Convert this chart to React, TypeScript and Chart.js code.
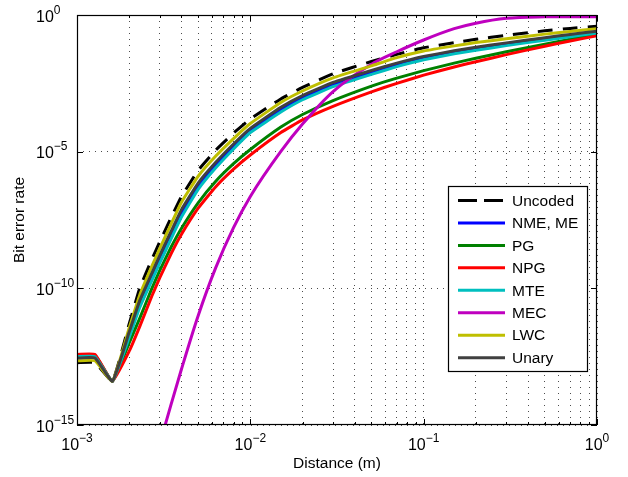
import React, { useEffect, useRef } from 'react';
import { Chart, registerables } from 'chart.js';

Chart.register(...registerables);

const FONT = '"Liberation Sans", Arial, Helvetica, sans-serif';

// Distance (m)
const distances = [1e-3, 1.27e-3, 1.6e-3, 2e-3, 2.3e-3, 2.7e-3, 3e-3, 3.5e-3, 4e-3, 5e-3, 6.3e-3, 8e-3, 1e-2, 1.5e-2, 2e-2, 3e-2, 5e-2, 7e-2, 0.1, 0.15, 0.2, 0.3, 0.5, 0.7, 1];

// log10(bit error rate)
const uncodedExp = [-12.72, -12.72, -13.4, -11.3, -10.0, -8.95, -8.3, -7.4, -6.65, -5.68, -4.95, -4.32, -3.8, -3.07, -2.65, -2.15, -1.7, -1.44, -1.2, -1.01, -0.89, -0.74, -0.58, -0.49, -0.41];
const nmeExp = [-12.5, -12.5, -13.4, -11.7, -10.58, -9.58, -8.94, -8.03, -7.26, -6.26, -5.5, -4.81, -4.22, -3.46, -3.02, -2.54, -2.1, -1.82, -1.58, -1.36, -1.23, -1.07, -0.87, -0.75, -0.62];
const pgExp = [-12.45, -12.45, -13.4, -12.0, -11.1, -10.01, -9.35, -8.48, -7.81, -6.87, -6.09, -5.44, -4.92, -4.1, -3.64, -3.13, -2.6, -2.31, -2.035, -1.76, -1.58, -1.345, -1.065, -0.885, -0.7];
const npgExp = [-12.42, -12.42, -13.4, -12.3, -11.4, -10.29, -9.62, -8.72, -8.03, -7.07, -6.29, -5.64, -5.12, -4.3, -3.84, -3.34, -2.81, -2.5, -2.2, -1.9, -1.71, -1.45, -1.14, -0.95, -0.76];
const mteExp = [-12.5, -12.5, -13.4, -11.8, -10.7, -9.72, -9.08, -8.17, -7.4, -6.38, -5.6, -4.9, -4.3, -3.55, -3.1, -2.62, -2.17, -1.89, -1.64, -1.42, -1.29, -1.12, -0.92, -0.795, -0.66];
const mecExp = [null, null, null, null, null, null, -15.7, -14.22, -12.97, -11.0, -9.26, -7.78, -6.64, -4.99, -3.99, -2.8, -1.8, -1.345, -0.915, -0.5, -0.3, -0.12, -0.066, -0.06, -0.06];
const lwcExp = [-12.65, -12.65, -13.4, -11.45, -10.25, -9.2, -8.55, -7.63, -6.86, -5.9, -5.17, -4.52, -3.97, -3.2, -2.78, -2.3, -1.86, -1.56, -1.32, -1.13, -1.01, -0.87, -0.7, -0.6, -0.5];
const unaryExp = [-12.55, -12.55, -13.4, -11.6, -10.45, -9.45, -8.8, -7.9, -7.13, -6.15, -5.4, -4.72, -4.15, -3.38, -2.95, -2.47, -2.03, -1.76, -1.52, -1.31, -1.18, -1.02, -0.83, -0.71, -0.59];

const seriesLabels = ['Uncoded', 'NME, ME', 'PG', 'NPG', 'MTE', 'MEC', 'LWC', 'Unary'];
const seriesExps = [uncodedExp, nmeExp, pgExp, npgExp, mteExp, mecExp, lwcExp, unaryExp];
const seriesColors = ['#000000', '#0000ff', '#008000', '#ff0000', '#00bfbf', '#bf00bf', '#bfbf00', '#404040'];

// axes
const xDecades = [1e-3, 1e-2, 1e-1, 1];
const xDecadeLabels = ['\u22123', '\u22122', '\u22121', '0'];
const xMinorSteps = [2, 3, 4, 5, 6, 7, 8, 9];
const yDecades = [1e-15, 1e-10, 1e-5, 1];
const yDecadeLabels = ['\u221215', '\u221210', '\u22125', '0'];

const xGridValues: number[] = [];
xDecades.forEach((d, i) => {
  xGridValues.push(d);
  if (i < xDecades.length - 1) xMinorSteps.forEach((m) => xGridValues.push(d * m));
});

function drawPow(ctx: CanvasRenderingContext2D, x: number, y: number, exp: string, center: boolean) {
  ctx.font = `16px ${FONT}`;
  const wb = ctx.measureText('10').width;
  ctx.font = `12px ${FONT}`;
  const we = ctx.measureText(exp).width;
  const left = center ? x - (wb + we) / 2 : x;
  ctx.textAlign = 'left';
  ctx.textBaseline = 'alphabetic';
  ctx.fillStyle = '#000';
  ctx.font = `16px ${FONT}`;
  ctx.fillText('10', left, y);
  ctx.font = `12px ${FONT}`;
  ctx.fillText(exp, left + wb, y - 8);
}

const matlabAxes = {
  id: 'matlabAxes',
  afterDatasetsDraw(chart: any) {
    const { ctx, chartArea: a, scales } = chart;
    const xs = scales.x;
    const ys = scales.y;
    ctx.save();
    ctx.setLineDash([]);
    ctx.strokeStyle = '#000';
    ctx.lineWidth = 1;
    ctx.beginPath();
    xGridValues.forEach((v) => {
      const px = Math.round(xs.getPixelForValue(v)) + 0.5;
      const len = xDecades.includes(v) ? 6 : 3;
      ctx.moveTo(px, a.bottom);
      ctx.lineTo(px, a.bottom - len);
      ctx.moveTo(px, a.top);
      ctx.lineTo(px, a.top + len);
    });
    yDecades.forEach((v) => {
      const py = Math.round(ys.getPixelForValue(v)) + 0.5;
      ctx.moveTo(a.left, py);
      ctx.lineTo(a.left + 6, py);
      ctx.moveTo(a.right, py);
      ctx.lineTo(a.right - 6, py);
    });
    ctx.stroke();
    ctx.lineWidth = 1.2;
    ctx.strokeRect(a.left + 0.5, a.top + 0.5, a.right - a.left - 1, a.bottom - a.top - 1);

    xDecades.forEach((v, i) => {
      drawPow(ctx, xs.getPixelForValue(v), a.bottom + 25, xDecadeLabels[i], true);
    });
    yDecades.forEach((v, i) => {
      drawPow(ctx, a.left - 41, ys.getPixelForValue(v) + 6.5, yDecadeLabels[i], false);
    });
    ctx.restore();
  },
  afterDraw(chart: any) {
    const { ctx, chartArea: a } = chart;
    const w = 139;
    const h = 185;
    const lx = a.right - 10 - w;
    const ly = 186;
    ctx.save();
    ctx.fillStyle = '#fff';
    ctx.fillRect(lx, ly, w, h);
    ctx.strokeStyle = '#000';
    ctx.lineWidth = 1.2;
    ctx.setLineDash([]);
    ctx.strokeRect(lx + 0.5, ly + 0.5, w, h);
    chart.data.datasets.forEach((ds: any, i: number) => {
      const y = ly + 14.5 + i * 22.45;
      ctx.beginPath();
      ctx.strokeStyle = ds.borderColor;
      ctx.lineWidth = 3;
      ctx.setLineDash(i === 0 ? [19, 7] : []);
      ctx.moveTo(lx + 10, y);
      ctx.lineTo(lx + 57, y);
      ctx.stroke();
      ctx.setLineDash([]);
      ctx.fillStyle = '#000';
      ctx.font = `15.5px ${FONT}`;
      ctx.textAlign = 'left';
      ctx.textBaseline = 'middle';
      ctx.fillText(ds.label, lx + 64, y + 1);
    });
    ctx.restore();
  },
};

export default function App() {
  const canvasRef = useRef<HTMLCanvasElement | null>(null);

  useEffect(() => {
    if (!canvasRef.current) return;
    const datasets = seriesLabels.map((label, i) => ({
      label,
      data: distances.map((d, j) => {
        const e = seriesExps[i][j];
        return { x: d, y: e === null ? null : Math.pow(10, e) };
      }),
      borderColor: seriesColors[i],
      backgroundColor: seriesColors[i],
      borderWidth: 3,
      borderDash: i === 0 ? [15, 10] : [],
      borderCapStyle: 'butt',
      borderJoinStyle: 'round',
      pointRadius: 0,
      pointHoverRadius: 0,
      fill: false,
      tension: 0.12,
      cubicInterpolationMode: label === 'MEC' ? 'monotone' : 'default',
      spanGaps: false,
      order: seriesLabels.length - 1 - i,
    }));

    const chart = new Chart(canvasRef.current, {
      type: 'line',
      data: { datasets } as any,
      plugins: [matlabAxes],
      options: {
        responsive: false,
        animation: false,
        devicePixelRatio: 1,
        events: [],
        parsing: false,
        layout: { padding: { top: 15, right: 31, left: 0, bottom: 0 } },
        plugins: {
          legend: { display: false },
          tooltip: { enabled: false },
          title: { display: false },
        },
        scales: {
          x: {
            type: 'logarithmic',
            min: 1e-3,
            max: 1,
            afterBuildTicks: (s: any) => {
              s.ticks = xGridValues.map((v) => ({ value: v }));
            },
            afterFit: (s: any) => {
              s.height = 52;
            },
            ticks: { display: false },
            grid: { color: 'rgba(0,0,0,0.7)', lineWidth: 1, drawTicks: false },
            border: { display: false, dash: [1, 5] },
            title: {
              display: true,
              text: 'Distance (m)',
              color: '#000',
              font: { family: FONT, size: 15.5 },
              padding: { top: 0, bottom: 4 },
            },
          },
          y: {
            type: 'logarithmic',
            min: 1e-15,
            max: 1,
            afterBuildTicks: (s: any) => {
              s.ticks = yDecades.map((v) => ({ value: v }));
            },
            afterFit: (s: any) => {
              s.width = 77;
            },
            ticks: { display: false },
            grid: { color: 'rgba(0,0,0,0.7)', lineWidth: 1, drawTicks: false },
            border: { display: false, dash: [1, 5] },
            title: {
              display: true,
              text: 'Bit error rate',
              color: '#000',
              font: { family: FONT, size: 15.5 },
              padding: { top: 10, bottom: 0 },
            },
          },
        },
      } as any,
    });
    return () => chart.destroy();
  }, []);

  return (
    <div style={{ position: 'fixed', left: 0, top: 0, width: 628, height: 477, background: '#fff' }}>
      <canvas ref={canvasRef} width={628} height={477} style={{ display: 'block', width: 628, height: 477 }} />
    </div>
  );
}
